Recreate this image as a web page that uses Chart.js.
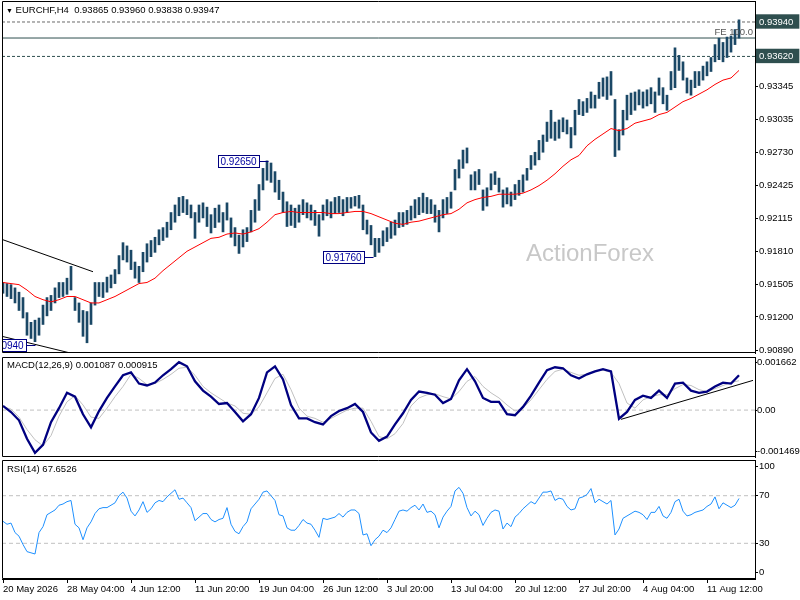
<!DOCTYPE html>
<html lang="en">
<head>
<meta charset="UTF-8">
<title>EURCHF H4</title>
<script src="https://cdn.jsdelivr.net/npm/chart.js"></script>
<style>
    body { margin: 0; background: #fff; }
    #wrap { position: relative; width: 800px; height: 600px; overflow: hidden;
            font-family: "Liberation Sans", Arial, sans-serif; }
    canvas { position: absolute; left: 0; }
    .txt { position: absolute; font-size: 9.5px; line-height: 11px; color: #000; white-space: nowrap; }
</style>
</head>
<body>
<div id="wrap">
    <canvas id="priceChart" width="800" height="356" style="top:0"></canvas>
    <canvas id="macdChart" width="800" height="103" style="top:355px"></canvas>
    <canvas id="rsiChart" width="800" height="142" style="top:458px"></canvas>
    <div class="txt" style="left:6px;top:4px"><span style="font-size:7px">&#9660;</span> EURCHF,H4&nbsp; 0.93865 0.93960 0.93838 0.93947</div>
    <div class="txt" style="right:47px;top:26px;color:#555">FE 100.0</div>
    <div class="txt" style="left:526px;top:240px;font-size:24px;line-height:26px;color:#c8c8c8">ActionForex</div>
    <div class="txt" style="left:7px;top:359px">MACD(12,26,9) 0.001087 0.000915</div>
    <div class="txt" style="left:7px;top:463px">RSI(14) 67.6526</div>
</div>

<script>
    // ---- data ----
    // one sample every other H4 bar (bar index = k * barEvery)
    const barEvery = 2;
    const priceLow = [
        .9142,.9139,.9137,.9133,.9126,.9119,.9103,.9100,.9097,.9103,
        .9113,.9121,.9126,.9133,.9138,.9139,.9141,.9145,.9126,.9115,
        .9102,.9096,.9113,.9131,.9139,.9138,.9143,.9147,.9151,.9160,
        .9173,.9171,.9164,.9156,.9152,.9162,.9171,.9176,.9180,.9187,
        .9191,.9194,.9201,.9208,.9214,.9217,.9215,.9212,.9193,.9208,
        .9212,.9204,.9198,.9203,.9208,.9199,.9210,.9194,.9186,.9179,
        .9185,.9190,.9199,.9208,.9219,.9238,.9247,.9245,.9236,.9229,
        .9217,.9204,.9205,.9203,.9208,.9215,.9212,.9210,.9205,.9195,
        .9210,.9214,.9212,.9216,.9217,.9214,.9217,.9221,.9223,.9221,
        .9201,.9197,.9187,.9176,.9180,.9186,.9190,.9193,.9196,.9203,
        .9204,.9206,.9210,.9212,.9215,.9217,.9216,.9216,.9208,.9199,
        .9212,.9216,.9221,.9238,.9249,.9258,.9263,.9238,.9238,.9243,
        .9219,.9223,.9238,.9243,.9236,.9222,.9225,.9223,.9229,.9233,
        .9236,.9247,.9257,.9261,.9266,.9273,.9283,.9286,.9284,.9286,
        .9292,.9290,.9277,.9289,.9308,.9307,.9310,.9314,.9314,.9323,
        .9325,.9322,.9326,.9269,.9275,.9289,.9303,.9308,.9312,.9317,
        .9314,.9316,.9318,.9310,.9326,.9318,.9312,.9331,.9333,.9349,
        .9340,.9328,.9326,.9333,.9335,.9340,.9344,.9348,.9357,.9359,
        .9357,.9361,.9366,.9373,.9379
    ];
    const priceHigh = [
        .9152,.9151,.9150,.9147,.9143,.9138,.9124,.9115,.9117,.9119,
        .9131,.9138,.9140,.9147,.9152,.9152,.9156,.9167,.9138,.9133,
        .9126,.9125,.9133,.9152,.9152,.9152,.9157,.9159,.9164,.9177,
        .9189,.9186,.9182,.9171,.9167,.9180,.9188,.9191,.9194,.9201,
        .9203,.9208,.9217,.9224,.9231,.9232,.9229,.9224,.9217,.9224,
        .9226,.9222,.9215,.9221,.9224,.9217,.9226,.9212,.9203,.9196,
        .9201,.9203,.9219,.9229,.9243,.9258,.9265,.9263,.9255,.9247,
        .9236,.9227,.9224,.9221,.9224,.9229,.9226,.9224,.9219,.9215,
        .9224,.9229,.9227,.9231,.9232,.9229,.9231,.9231,.9232,.9233,
        .9224,.9210,.9205,.9193,.9193,.9200,.9203,.9208,.9210,.9217,
        .9217,.9219,.9223,.9229,.9231,.9235,.9231,.9229,.9224,.9219,
        .9229,.9231,.9236,.9257,.9266,.9275,.9277,.9252,.9255,.9257,
        .9238,.9240,.9253,.9255,.9249,.9238,.9240,.9236,.9243,.9247,
        .9252,.9258,.9270,.9273,.9284,.9289,.9301,.9312,.9301,.9303,
        .9305,.9303,.9296,.9312,.9322,.9320,.9323,.9329,.9326,.9338,
        .9342,.9343,.9348,.9322,.9294,.9312,.9326,.9328,.9329,.9331,
        .9329,.9331,.9333,.9329,.9342,.9333,.9326,.9348,.9370,.9363,
        .9357,.9342,.9340,.9348,.9348,.9353,.9357,.9361,.9373,.9379,
        .9375,.9380,.9381,.9387,.9396
    ];

    // moving average, MACD and signal: one value every 4 bars
    const lineEvery = 4;
    const movingAvg = [
        .9152,.9151,.9150,.9145,.9139,.9136,.9134,.9136,.9139,.9139,
        .9136,.9133,.9133,.9136,.9139,.9143,.9147,.9151,.9152,.9156,
        .9163,.9169,.9175,.9181,.9185,.9189,.9193,.9194,.9197,.9198,
        .9197,.9199,.9202,.9208,.9215,.9217,.9218,.9217,.9217,.9217,
        .9217,.9216,.9216,.9217,.9218,.9218,.9216,.9213,.9210,.9207,
        .9206,.9208,.9209,.9211,.9213,.9215,.9216,.9220,.9226,.9229,
        .9231,.9232,.9234,.9234,.9234,.9235,.9238,.9242,.9247,.9253,
        .9260,.9266,.9270,.9279,.9285,.9290,.9295,.9293,.9295,.9300,
        .9302,.9304,.9308,.9310,.9315,.9320,.9323,.9327,.9331,.9336,
        .9340,.9342,.9349
    ];
    const macdMain = [
        0.00013,-0.00006,-0.00032,-0.0009,-0.00134,-0.00109,-0.00038,0.00006,0.00054,0.00042,
        -0.00013,-0.00054,-0.00003,0.00038,0.00074,0.00109,0.00118,0.00083,0.00077,0.00086,
        0.00109,0.00128,0.0015,0.00137,0.0009,0.00061,0.00042,0.00019,0.00022,-0.00006,
        -0.00035,-0.00013,0.00038,0.00118,0.00137,0.00096,0.00016,-0.00026,-0.00026,-0.00038,
        -0.00045,-0.00019,-0.00003,0.00006,0.00019,-0.00006,-0.0007,-0.00096,-0.00083,-0.00045,
        -0.0001,0.00032,0.00058,0.00054,0.00048,0.00022,0.00035,0.00093,0.00128,0.0009,
        0.00038,0.00026,0.00026,-0.00013,-0.00016,0.0001,0.00045,0.00086,0.00125,0.00134,
        0.00131,0.00109,0.00099,0.00112,0.00121,0.00128,0.00121,-0.00027,-0.00006,0.00032,
        0.00045,0.00038,0.00061,0.00038,0.00083,0.00086,0.00061,0.00054,0.00058,0.00074,
        0.00086,0.00083,0.00109
    ];
    const macdSignal = [
        0.0001,0.00003,-0.00022,-0.00061,-0.00093,-0.00112,-0.0008,-0.00019,0.00026,0.00045,
        0.00016,-0.00022,-0.00026,0.00006,0.00042,0.00074,0.00112,0.00099,0.0008,0.00083,
        0.00096,0.00112,0.00131,0.00134,0.00109,0.00074,0.00054,0.00038,0.00022,0.00013,
        -0.0001,-0.00013,0.0001,0.00054,0.00099,0.00112,0.00064,0.00006,-0.00019,-0.00026,
        -0.00038,-0.00026,-0.00013,0,0.00006,0.00006,-0.00035,-0.00083,-0.0009,-0.00074,
        -0.00042,0.00013,0.00038,0.00048,0.00051,0.00042,0.00035,0.00058,0.0009,0.00105,
        0.00074,0.00054,0.00038,0.00016,-0.00003,0.00006,0.00032,0.00064,0.00096,0.00121,
        0.00128,0.00118,0.00109,0.00112,0.00121,0.00125,0.00118,0.00083,0.00022,0.00006,
        0.00032,0.00042,0.00048,0.00048,0.00067,0.0008,0.00077,0.00064,0.00058,0.00067,
        0.00077,0.00086,0.00092
    ];

    // RSI(14): one value every other bar
    const rsiValues = [
        48.5,46,47,39,36,29,23,22,21,39,
        44,54,56,58,62,63,65,66,46,43,
        33,43,48,55,59,60,60,62,64,70,
        73,68,57,53,58,65,56,59,64,66,
        65,69,72,75,67,68,64,60,49,52,
        55,55,50,48,50,51,60,46,40,38,
        44,48,59,63,67,73,74,70,66,54,
        53,43,41,41,45,50,47,46,41,35,
        51,50,51,52,55,52,56,58,58,55,
        37,38,28,33,36,41,39,43,50,57,
        58,57,60,62,58,63,56,57,54,43,
        52,57,61,74,77,72,60,53,57,54,
        45,51,56,58,57,42,47,44,52,55,
        59,62,65,63,68,73,73,74,66,68,
        67,61,58,59,68,69,71,76,64,67,
        65,63,66,37,42,51,53,55,57,56,
        54,50,56,56,61,53,51,56,65,67,
        57,53,54,56,57,58,61,63,69,59,
        64,62,60,62,67.65
    ];

    // axes and tick labels
    const timeLabels = ['20 May 2026', '28 May 04:00', '4 Jun 12:00', '11 Jun 20:00', '19 Jun 04:00', '26 Jun 12:00',
                        '3 Jul 20:00', '13 Jul 04:00', '20 Jul 12:00', '27 Jul 20:00', '4 Aug 04:00', '11 Aug 12:00'];
    const labelBars = [0, 32, 64, 96, 128, 160, 192, 224, 256, 288, 320, 352];
    const priceTicks = [0.93940, 0.93620, 0.93345, 0.93035, 0.92730, 0.92425, 0.92115, 0.91810, 0.91505, 0.91200, 0.90890];
    const markedTicks = [0.93940, 0.93620];
    const macdTickLabels = ['0.001662', '0.00', '-0.001469'];
    const rsiTickLabels = ['100', '70', '30', '0'];

    // drawn objects: levels, trendlines, swing labels
    const levelPrices = [0.93940, 0.93791, 0.93620];
    const trendBars = [[-0.5, 45], [-0.5, 32.5]];
    const trendPrices = [[0.9192, 0.9162], [0.9102, 0.9087]];
    const swingBars = [16, 132.5, 185];
    const swingPrices = [0.90940, 0.92650, 0.91760];
    const macdTrendBars = [309, 375];
    const macdTrendValues = [-0.00029, 0.00093];
    const rsiLevels = [70, 30];

    // ---- scale ranges ----
    const xMin = -0.5, xMax = 376;
    const priceMin = 0.90865, priceMax = 0.94135;
    const macdMin = -0.001469, macdMax = 0.001662;
    const axisWidth = 45;
    const insetFrac = 0.055;
    const tickFont = { family: '"Liberation Sans", Arial, sans-serif', size: 9.5 };

    // frame round each panel
    const frame = {
        id: 'frame',
        afterDraw(chart) {
            const a = chart.chartArea, ctx = chart.ctx;
            ctx.save();
            ctx.strokeStyle = '#000';
            ctx.lineWidth = 1;
            ctx.beginPath();
            ctx.moveTo(a.right, a.top + 0.5);
            ctx.lineTo(a.left + 0.5, a.top + 0.5);
            ctx.lineTo(a.left + 0.5, a.bottom - 0.5);
            ctx.lineTo(a.right, a.bottom - 0.5);
            ctx.stroke();
            ctx.restore();
        }
    };

    // boxed swing high/low labels
    const swingLabels = {
        id: 'swingLabels',
        afterDatasetsDraw(chart) {
            const { ctx, chartArea: a, scales: { x, y } } = chart;
            ctx.save();
            ctx.beginPath();
            ctx.rect(a.left + 1, a.top, a.right - a.left, a.bottom - a.top);
            ctx.clip();
            ctx.font = '10px "Liberation Sans", Arial, sans-serif';
            ctx.textBaseline = 'middle';
            ctx.textAlign = 'left';
            swingBars.forEach((b, j) => {
                const px = Math.round(x.getPixelForValue(b)) + 0.5;
                const py = Math.round(y.getPixelForValue(swingPrices[j])) + 0.5;
                const txt = swingPrices[j].toFixed(5);
                const w = Math.ceil(ctx.measureText(txt).width) + 4;
                const right = px - 9;
                ctx.fillStyle = '#fff';
                ctx.fillRect(right - w, py - 6, w, 12);
                ctx.strokeStyle = '#000080';
                ctx.lineWidth = 1;
                ctx.strokeRect(right - w, py - 6, w, 12);
                ctx.beginPath();
                ctx.moveTo(right, py);
                ctx.lineTo(px, py);
                ctx.stroke();
                ctx.fillStyle = '#0000a0';
                ctx.fillText(txt, right - w + 2, py + 1);
            });
            ctx.restore();
        }
    };

    const hline = (v, color, dash, order) => ({
        type: 'line', data: [{ x: xMin, y: v }, { x: xMax, y: v }],
        borderColor: color, borderWidth: 1, borderDash: dash, pointRadius: 0, order: order
    });

    const baseOptions = (padding) => ({
        responsive: false,
        animation: false,
        events: [],
        layout: { padding: padding },
        plugins: { legend: { display: false }, tooltip: { enabled: false } }
    });

    // right-hand value axis: fixed width, no extra room for the end labels
    const yAxis = (extra, tickLen) => Object.assign({
        position: 'right',
        afterFit: s => { s.width = axisWidth; s.paddingTop = 0; s.paddingBottom = 0; },
        border: { color: '#000' },
        grid: { drawOnChartArea: false, tickLength: tickLen || 3, color: '#000' }
    }, extra);

    // ---- price panel ----
    const barData = priceLow.map((lo, k) => ({ x: k * barEvery, y: [lo, priceHigh[k]] }));
    const maData = movingAvg.map((v, m) => ({ x: m * lineEvery, y: v }));

    const priceDatasets = [
        { type: 'bar', data: barData, backgroundColor: '#1b4866', barThickness: 2, grouped: false, order: 3 },
        { type: 'line', data: maData, borderColor: '#ff0000', borderWidth: 1, pointRadius: 0, order: 1 },
        hline(levelPrices[0], '#6a6a6a', [3, 2], 4),
        hline(levelPrices[1], '#2f4f4f', [], 4),
        hline(levelPrices[2], '#2f4f4f', [3, 2], 4)
    ];
    trendBars.forEach((tb, j) => {
        priceDatasets.push({
            type: 'line',
            data: [{ x: tb[0], y: trendPrices[j][0] }, { x: tb[1], y: trendPrices[j][1] }],
            borderColor: '#000', borderWidth: 1, pointRadius: 0, order: 2
        });
    });

    new Chart(document.getElementById('priceChart'), {
        type: 'bar',
        data: { datasets: priceDatasets },
        options: Object.assign(baseOptions({ left: 2, top: 1, right: 0, bottom: 3 }), {
            scales: {
                x: { type: 'linear', min: xMin, max: xMax, display: false, offset: false },
                y: yAxis({
                    min: priceMin, max: priceMax,
                    afterBuildTicks: s => { s.ticks = priceTicks.map(v => ({ value: v })); },
                    ticks: {
                        autoSkip: false, padding: 1, font: tickFont,
                        color: c => markedTicks.includes(c.tick.value) ? '#fff' : '#000',
                        showLabelBackdrop: c => markedTicks.includes(c.tick.value),
                        backdropColor: '#2f4f4f',
                        backdropPadding: { top: 2, bottom: 1, left: 3, right: 6 },
                        callback: v => v.toFixed(5)
                    }
                })
            }
        }),
        plugins: [frame, swingLabels]
    });

    // ---- MACD panel ----
    const macdInset = (macdMax - macdMin) * insetFrac;
    new Chart(document.getElementById('macdChart'), {
        type: 'line',
        data: {
            datasets: [
                { data: macdMain.map((v, m) => ({ x: m * lineEvery, y: v })), borderColor: '#000080', borderWidth: 2.3, pointRadius: 0, order: 1 },
                { data: macdSignal.map((v, m) => ({ x: m * lineEvery, y: v })), borderColor: '#c0c0c0', borderWidth: 1, pointRadius: 0, order: 2 },
                { data: [{ x: macdTrendBars[0], y: macdTrendValues[0] }, { x: macdTrendBars[1], y: macdTrendValues[1] }],
                  borderColor: '#000', borderWidth: 1, pointRadius: 0, order: 0 },
                hline(0, '#c0c0c0', [4, 3], 3)
            ]
        },
        options: Object.assign(baseOptions({ left: 2, top: 2, right: 0, bottom: 1 }), {
            scales: {
                x: { type: 'linear', min: xMin, max: xMax, display: false },
                y: yAxis({
                    min: macdMin, max: macdMax,
                    afterBuildTicks: s => {
                        s.ticks = [macdMax - macdInset, 0, macdMin + macdInset].map(v => ({ value: v }));
                    },
                    ticks: { autoSkip: false, padding: 0, font: tickFont, color: '#000',
                             callback: (v, i) => macdTickLabels[i] }
                }, 2)
            }
        }),
        plugins: [frame]
    });

    // ---- RSI panel ----
    const rsiInset = 100 * insetFrac;
    new Chart(document.getElementById('rsiChart'), {
        type: 'line',
        data: {
            datasets: [
                { data: rsiValues.map((v, k) => ({ x: k * barEvery, y: v })), borderColor: '#1e90ff', borderWidth: 1, pointRadius: 0, order: 1 },
                hline(rsiLevels[0], '#c0c0c0', [4, 3], 2),
                hline(rsiLevels[1], '#c0c0c0', [4, 3], 2)
            ]
        },
        options: Object.assign(baseOptions({ left: 2, top: 2, right: 0, bottom: 0 }), {
            scales: {
                x: {
                    type: 'linear', min: xMin, max: xMax,
                    afterFit: s => { s.height = 21; s.paddingLeft = 0; s.paddingRight = 0; },
                    afterBuildTicks: s => { s.ticks = labelBars.map(v => ({ value: v })); },
                    border: { color: '#000' },
                    grid: { drawOnChartArea: false, tickLength: 4, color: '#000' },
                    ticks: { autoSkip: false, maxRotation: 0, align: 'start', padding: 1, font: tickFont, color: '#000',
                             callback: (v, i) => timeLabels[i] }
                },
                y: yAxis({
                    min: 0, max: 100,
                    afterBuildTicks: s => {
                        s.ticks = [100 - rsiInset, rsiLevels[0], rsiLevels[1], rsiInset].map(v => ({ value: v }));
                    },
                    ticks: { autoSkip: false, padding: 1, font: tickFont, color: '#000',
                             callback: (v, i) => rsiTickLabels[i] }
                })
            }
        }),
        plugins: [frame]
    });
</script>
</body>
</html>
